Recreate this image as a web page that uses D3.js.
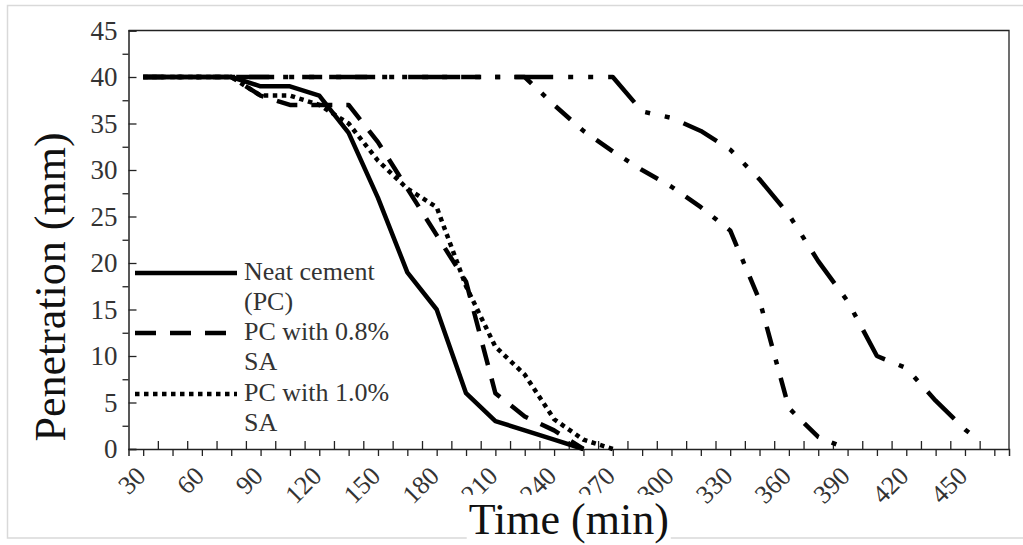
<!DOCTYPE html>
<html>
<head>
<meta charset="utf-8">
<script src="https://cdn.jsdelivr.net/npm/d3@7"></script>
<style>
  html, body { margin: 0; padding: 0; background: #fff; }
  svg { display: block; }
</style>
</head>
<body>
<svg id="chart" width="1023" height="545"></svg>
<script>
// ---- data ----
const timesPC   = [30,45,60,75,90,105,120,135,150,165,180,195,210,225,240,255];
const neatPC    = [40,40,40,40,39,39,38,34,27,19,15,6,3,2,1,0];

const times08   = [30,45,60,75,90,105,120,135,150,165,180,195,210,225,240,255];
const sa08      = [40,40,40,40,38,37,37,37,33,28,23,18,6,3.5,2,0];

const times10   = [30,45,60,75,90,105,120,135,150,165,180,195,210,225,240,255,270];
const sa10      = [40,40,40,40,38,38,37,35,31,28,26,17.5,11,8,3.2,1,0];

const timesDD   = [30,45,60,75,90,105,120,135,150,165,180,195,210,225,240,255,270,285,300,315,330,345,360,375,390];
const seriesDD  = [40,40,40,40,40,40,40,40,40,40,40,40,40,40,37,34.2,32,30,28.2,26,23.5,16,4.4,1.3,0];

const timesDDD  = [30,45,60,75,90,105,120,135,150,165,180,195,210,225,240,255,270,285,300,315,330,345,360,375,390,405,420,435,450,458];
const seriesDDD = [40,40,40,40,40,40,40,40,40,40,40,40,40,40,40,40,40,36.3,35.6,34.2,32.2,29,25.2,20.2,15.9,10,8.7,5.2,2.1,0.8];

const legendLabels = [["Neat cement","(PC)"],["PC with 0.8%","SA"],["PC with 1.0%","SA"]];
const xMajorTicks = d3.range(30, 466, 15);
const xMinorTicks = d3.range(37.5, 460, 15);
const yMajorTicks = d3.range(0, 46, 5);
const yMinorTicks = d3.range(2.5, 45, 5);
const xTitle = "Time (min)";
const yTitle = "Penetration (mm)";

// ---- layout ----
const svg = d3.select("#chart");
const FONT = "'Liberation Serif', 'Times New Roman', serif";
const L = 128.5, R = 1009, T = 30.5, B = 449;

const x = d3.scaleLinear().domain([22.5, 472.5]).range([L, R]);
const y = d3.scaleLinear().domain([0, 45]).range([B, T]);

// outer light border
svg.append("rect").attr("x", 7.5).attr("y", 5.5).attr("width", 1030).attr("height", 532.5)
  .attr("fill", "#fff").attr("stroke", "#d9d9d9").attr("stroke-width", 1.5);

// plot frame (top and right)
svg.append("path")
  .attr("d", `M${L},${T}H${R}V${B}`)
  .attr("fill", "none").attr("stroke", "#222").attr("stroke-width", 1.3);

// y axis major (inside ticks, labeled)
const gy = svg.append("g").attr("transform", `translate(${L},0)`)
  .call(d3.axisLeft(y).tickValues(yMajorTicks).tickSize(-8).tickPadding(11).tickFormat(d3.format("d")));
gy.select(".domain").attr("stroke", "#222").attr("stroke-width", 1.5);
gy.selectAll(".tick line").attr("stroke", "#222").attr("stroke-width", 1.3);
gy.selectAll("text").attr("font-family", FONT).attr("font-size", 27).attr("fill", "#333");

// y axis minor (outside ticks)
const gy2 = svg.append("g").attr("transform", `translate(${L},0)`)
  .call(d3.axisLeft(y).tickValues(yMinorTicks).tickSize(6).tickFormat(""));
gy2.select(".domain").remove();
gy2.selectAll(".tick line").attr("stroke", "#222").attr("stroke-width", 1.3);

// x axis major (outside ticks, labels every 30)
const gx = svg.append("g").attr("transform", `translate(0,${B})`)
  .call(d3.axisBottom(x).tickValues(xMajorTicks).tickSize(7)
    .tickFormat(d => ((d - 30) % 30 === 0 ? String(d) : "")));
gx.select(".domain").attr("stroke", "#222").attr("stroke-width", 1.5);
gx.selectAll(".tick line").attr("stroke", "#222").attr("stroke-width", 1.3);
gx.selectAll("text")
  .attr("font-family", FONT).attr("font-size", 26).attr("fill", "#333")
  .attr("x", 0).attr("y", 0).attr("dy", "0.35em")
  .attr("text-anchor", "end")
  .attr("transform", "translate(-3,22) rotate(-45)");

// x axis minor (inside ticks)
const gx2 = svg.append("g").attr("transform", `translate(0,${B})`)
  .call(d3.axisBottom(x).tickValues(xMinorTicks).tickSize(-8).tickFormat(""));
gx2.select(".domain").remove();
gx2.selectAll(".tick line").attr("stroke", "#222").attr("stroke-width", 1.3);

// series
const series = [
  { t: timesDDD, v: seriesDDD, dash: "38,15,5,15,5,15" },
  { t: timesDD,  v: seriesDD,  dash: "20,14,5,14" },
  { t: times10,  v: sa10,      dash: "4.5,4.5" },
  { t: times08,  v: sa08,      dash: "21,14" },
  { t: timesPC,  v: neatPC,    dash: null }
];
const line = d3.line().x(d => x(d[0])).y(d => y(d[1]));
series.forEach(s => {
  const pts = s.t.map((t, i) => [t, s.v[i]]);
  svg.append("path").datum(pts)
    .attr("d", line)
    .attr("fill", "none").attr("stroke", "#000").attr("stroke-width", 4.5)
    .attr("stroke-linejoin", "round").attr("stroke-linecap", "butt")
    .attr("stroke-dasharray", s.dash);
});

// legend
const legendDash = [null, "21,14", "4.5,4.5"];
const legendY = [273, 333, 394];
legendLabels.forEach((lab, i) => {
  svg.append("line").attr("x1", 135).attr("x2", 237).attr("y1", legendY[i]).attr("y2", legendY[i])
    .attr("stroke", "#000").attr("stroke-width", 4.5).attr("stroke-dasharray", legendDash[i]);
  const tx = svg.append("text").attr("x", 244).attr("y", legendY[i] + 7)
    .attr("font-family", FONT).attr("font-size", 26).attr("fill", "#333");
  lab.forEach((s, j) => {
    tx.append("tspan").attr("x", 244).attr("dy", j === 0 ? 0 : 30).text(s);
  });
});

// axis titles
const titleBg = svg.append("rect").attr("fill", "#fff");
const xt = svg.append("text").attr("x", (L + R) / 2).attr("y", 534)
  .attr("text-anchor", "middle").attr("font-family", FONT).attr("font-size", 44)
  .attr("fill", "#111").text(xTitle);
const bb = xt.node().getBBox();
titleBg.attr("x", bb.x - 2).attr("y", bb.y).attr("width", bb.width + 4).attr("height", bb.height);

svg.append("text").attr("transform", "translate(65,287) rotate(-90)")
  .attr("text-anchor", "middle").attr("font-family", FONT).attr("font-size", 44)
  .attr("fill", "#111").text(yTitle);
</script>
</body>
</html>
